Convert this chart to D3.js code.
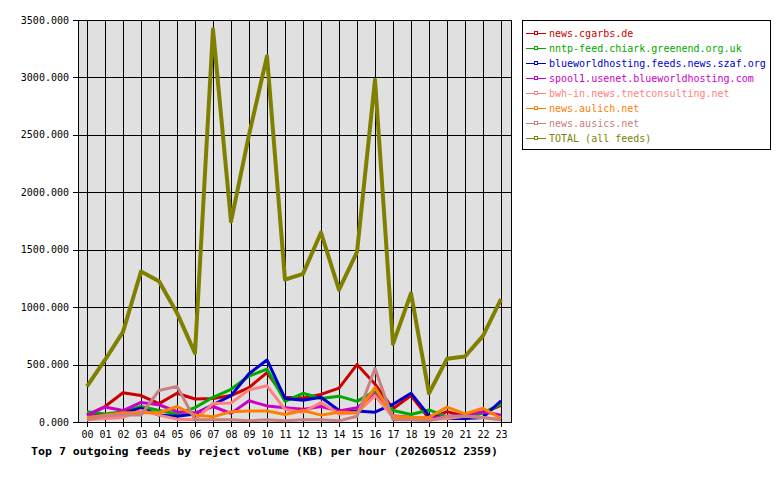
<!DOCTYPE html>
<html><head><meta charset="utf-8">
<script src="https://cdn.jsdelivr.net/npm/d3@7"></script>
<style>body{margin:0;background:#fff}svg{display:block}text{font-family:"DejaVu Sans Mono",monospace}</style>
</head><body>
<script>
const hours = ["00","01","02","03","04","05","06","07","08","09","10","11","12","13","14","15","16","17","18","19","20","21","22","23"];
const yTicks = [0,500,1000,1500,2000,2500,3000,3500];
const seriesNames = ["news.cgarbs.de","nntp-feed.chiark.greenend.org.uk","blueworldhosting.feeds.news.szaf.org","spool1.usenet.blueworldhosting.com","bwh-in.news.tnetconsulting.net","news.aulich.net","news.ausics.net","TOTAL (all feeds)"];
const seriesColors = ["#cc0000","#00aa00","#0000cc","#cc00cc","#ff8080","#ff8000","#c88080","#808000"];
const cgarbs  = [60,135,255,230,160,250,200,205,230,300,430,215,210,240,295,500,330,115,230,30,90,50,80,145];
const chiark  = [90,70,90,135,100,70,125,215,285,400,460,180,250,205,225,180,270,100,65,105,45,30,80,155];
const szaf    = [50,60,80,120,60,50,70,150,230,420,540,205,190,215,100,95,85,155,250,55,30,30,40,185];
const spool1  = [60,130,100,170,150,90,80,135,75,185,140,125,110,135,95,125,240,55,40,30,50,60,90,60];
const tnet    = [20,30,40,100,60,25,20,160,165,280,315,110,85,170,70,80,230,40,30,20,30,50,40,20];
const aulich  = [40,60,80,80,80,135,60,45,90,95,95,65,100,60,85,80,300,50,40,40,130,70,120,30];
const ausics  = [20,55,60,60,275,310,20,20,20,10,20,10,20,20,10,50,465,20,20,10,50,50,40,20];
const total   = [310,540,785,1310,1225,950,600,3420,1745,2500,3185,1240,1290,1650,1150,1480,2980,680,1120,250,550,570,750,1070];
const allSeries = [cgarbs,chiark,szaf,spool1,tnet,aulich,ausics,total];

const W=780,H=480;
const L=78,R=512,T=20,B=422;
const svg=d3.select("body").append("svg").attr("width",W).attr("height",H);
const x=d3.scaleBand().domain(hours).range([L,L+24*18]).paddingInner(0).paddingOuter(0);
const xc=h=>x(h)+x.bandwidth()/2;
const y=d3.scaleLinear().domain([0,3500]).range([B,T]);

svg.append("rect").attr("x",L).attr("y",T).attr("width",R-L).attr("height",B-T).attr("fill","#e0e0e0");
const g=svg.append("g").attr("shape-rendering","crispEdges");
g.selectAll(".vg").data(hours).join("line").attr("x1",d=>Math.round(xc(d))+0.5).attr("x2",d=>Math.round(xc(d))+0.5)
 .attr("y1",T).attr("y2",B+5).attr("stroke","#000");
g.selectAll(".hg").data(yTicks).join("line").attr("x1",L-5).attr("x2",R).attr("y1",d=>Math.round(y(d))+0.5).attr("y2",d=>Math.round(y(d))+0.5).attr("stroke","#000");
g.append("rect").attr("x",L+0.5).attr("y",T+0.5).attr("width",R-L-1).attr("height",B-T).attr("fill","none").attr("stroke","#000");

svg.selectAll(".yl").data(yTicks).join("text").attr("x",69).attr("y",d=>y(d)).attr("dy","0.36em")
 .attr("text-anchor","end").attr("font-size","10px").text(d=>d3.format(".3f")(d));
svg.selectAll(".xl").data(hours).join("text").attr("x",d=>xc(d)+0.5).attr("y",438)
 .attr("text-anchor","middle").attr("font-size","10px").text(d=>d);

const line=d3.line().x((d,i)=>xc(hours[i])).y(d=>y(d));
allSeries.forEach((s,k)=>{
  svg.append("path").datum(s).attr("d",line).attr("fill","none").attr("stroke",seriesColors[k])
   .attr("stroke-width",k===7?4:3).attr("stroke-linejoin","round");
});

svg.append("text").attr("x",31).attr("y",455).attr("font-size","11px").attr("font-weight","bold")
 .attr("textLength",467).attr("lengthAdjust","spacingAndGlyphs")
 .text("Top 7 outgoing feeds by reject volume (KB) per hour (20260512 2359)");

const lg=svg.append("g");
lg.append("rect").attr("x",522.5).attr("y",20.5).attr("width",248).attr("height",129).attr("fill","#fff").attr("stroke","#000").attr("shape-rendering","crispEdges");
seriesNames.forEach((n,k)=>{
  const yy=33+15*k;
  lg.append("line").attr("x1",526).attr("x2",546).attr("y1",yy+0.5).attr("y2",yy+0.5).attr("stroke",seriesColors[k]).attr("shape-rendering","crispEdges");
  lg.append("rect").attr("x",534.5).attr("y",yy-1.5).attr("width",3).attr("height",3).attr("fill","#fff").attr("stroke",seriesColors[k]).attr("stroke-width",1).attr("shape-rendering","crispEdges");
  lg.append("text").attr("x",549).attr("y",yy+4).attr("font-size","10px").attr("fill",seriesColors[k]).text(n);
});
</script>
</body></html>
